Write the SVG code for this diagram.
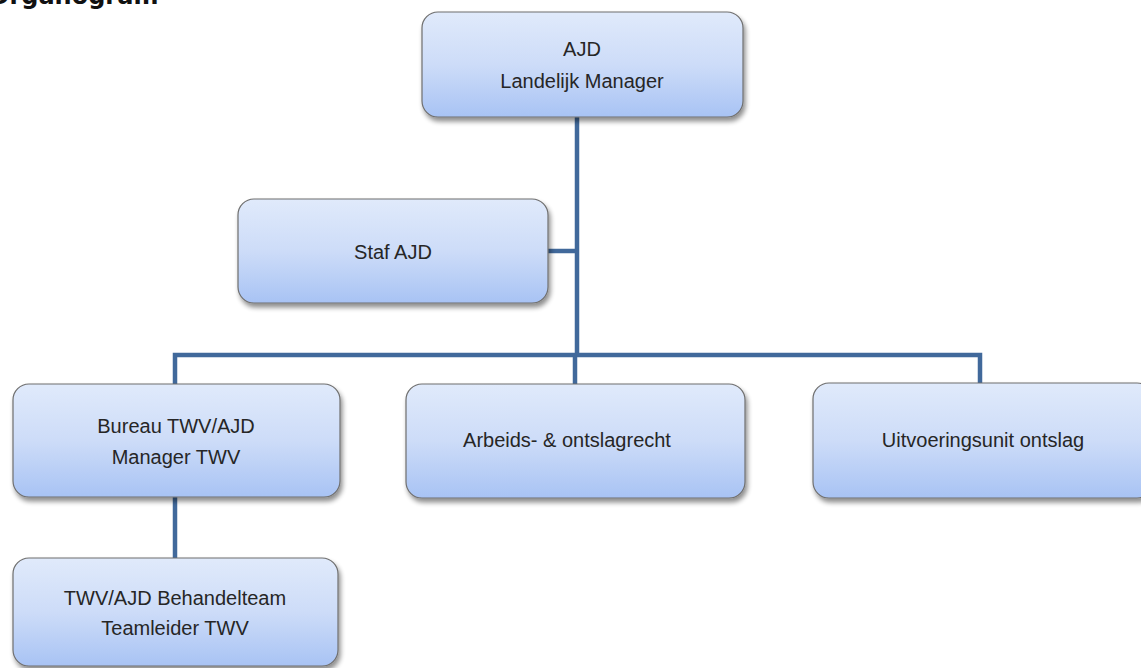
<svg xmlns="http://www.w3.org/2000/svg" width="1141" height="668" viewBox="0 0 1141 668">
<defs>
<linearGradient id="g" x1="0" y1="0" x2="0" y2="1">
<stop offset="0" stop-color="#e0eafb"/>
<stop offset="0.5" stop-color="#cddcf8"/>
<stop offset="1" stop-color="#a8c3f4"/>
</linearGradient>
<filter id="sh" x="-10%" y="-10%" width="130%" height="140%">
<feGaussianBlur in="SourceAlpha" stdDeviation="2.5"/>
<feOffset dx="2" dy="4"/>
<feComponentTransfer><feFuncA type="linear" slope="0.45"/></feComponentTransfer>
<feMerge><feMergeNode/><feMergeNode in="SourceGraphic"/></feMerge>
</filter>
</defs>
<style>
.box{fill:url(#g);stroke:#6f6f6f;stroke-width:1.2;filter:url(#sh)}
.t{font-family:"Liberation Sans",Arial,sans-serif;font-size:20px;fill:#262626;text-anchor:middle}
.c{fill:none;stroke:#41699b;stroke-width:4.5}
.title{font-family:"DejaVu Sans",Verdana,sans-serif;font-size:24px;font-weight:bold;fill:#111}
</style>
<rect width="1141" height="668" fill="#ffffff"/>
<text class="title" x="-11" y="4">Organogram</text>
<g id="connectors">
<path class="c" d="M577 117 V355"/>
<path class="c" d="M548 251 H577"/>
<path class="c" d="M175 384 V355 H980 V384"/>
<path class="c" d="M575 355 V384"/>
<path class="c" d="M175 497 V558"/>
</g>
<g id="n-ajd">
<rect class="box" x="422" y="12" width="321" height="105" rx="16"/>
<text class="t" x="582" y="56">AJD</text>
<text class="t" x="582" y="88">Landelijk Manager</text>
</g>
<g id="n-staf">
<rect class="box" x="238" y="199" width="310" height="104" rx="16"/>
<text class="t" x="393" y="259">Staf AJD</text>
</g>
<g id="n-bureau">
<rect class="box" x="13" y="384" width="327" height="113" rx="16"/>
<text class="t" x="176" y="433">Bureau TWV/AJD</text>
<text class="t" x="176" y="464">Manager TWV</text>
</g>
<g id="n-arbeids">
<rect class="box" x="406" y="384" width="339" height="114" rx="16"/>
<text class="t" x="567" y="447">Arbeids- &amp; ontslagrecht</text>
</g>
<g id="n-uitvoering">
<rect class="box" x="813" y="383" width="340" height="115" rx="16"/>
<text class="t" x="983" y="447">Uitvoeringsunit ontslag</text>
</g>
<g id="n-behandelteam">
<rect class="box" x="13" y="558" width="325" height="108" rx="16"/>
<text class="t" x="175" y="605">TWV/AJD Behandelteam</text>
<text class="t" x="175" y="635">Teamleider TWV</text>
</g>
</svg>
